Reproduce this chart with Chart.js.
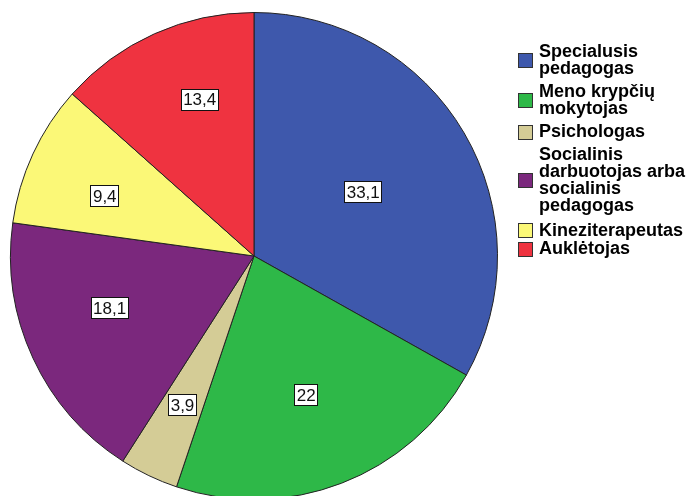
<!DOCTYPE html>
<html>
<head>
<meta charset="utf-8">
<script src="https://cdn.jsdelivr.net/npm/chart.js@4"></script>
<style>
  html, body { margin: 0; padding: 0; background: #fff; overflow: hidden; }
  #wrap { width: 688px; height: 496px; overflow: hidden; }
</style>
</head>
<body>
<div id="wrap"><canvas id="chartPie" width="688" height="500"></canvas></div>
<script>
// Kategorijos (legendos eilutės) ir procentai
var categories = [
    ['Specialusis', 'pedagogas'],
    ['Meno krypčių', 'mokytojas'],
    ['Psichologas'],
    ['Socialinis', 'darbuotojas arba', 'socialinis', 'pedagogas'],
    ['Kineziterapeutas'],
    ['Auklėtojas']
];
var values = [33.1, 22, 3.9, 18.1, 9.4, 13.4];
var valueLabels = ['33,1', '22', '3,9', '18,1', '9,4', '13,4'];

var colors = ['#3e58ac', '#2eb848', '#d4cc96', '#7b287d', '#fbf877', '#ef3340'];

// Etikečių vieta: spindulio dalis ir kampo poslinkis (laipsniais)
var labelRadius = [0.52, 0.61, 0.68, 0.63, 0.66, 0.68];
var labelShift = [0, 0.5, 0, 5, -3, 5];

// Tarpai tarp legendos įrašų
var legendGaps = [6.5, 6.5, 6.5, 8, 2];

// Reikšmių etiketės baltuose rėmeliuose
var valueBoxes = {
    id: 'valueBoxes',
    afterDatasetsDraw: function (chart) {
        var ctx = chart.ctx;
        var arcs = chart.getDatasetMeta(0).data;
        ctx.save();
        ctx.font = '17px "Liberation Sans", Arial, sans-serif';
        ctx.textAlign = 'center';
        ctx.textBaseline = 'middle';
        arcs.forEach(function (arc, i) {
            var mid = (arc.startAngle + arc.endAngle) / 2 + labelShift[i] * Math.PI / 180;
            var r = arc.outerRadius * labelRadius[i];
            var x = arc.x + Math.cos(mid) * r;
            var y = arc.y + Math.sin(mid) * r;
            var w = ctx.measureText(valueLabels[i]).width + 5;
            var h = 22;
            ctx.fillStyle = '#fff';
            ctx.fillRect(Math.round(x - w / 2), Math.round(y - h / 2), Math.round(w), h);
            ctx.strokeStyle = '#111';
            ctx.lineWidth = 1;
            ctx.strokeRect(Math.round(x - w / 2) + 0.5, Math.round(y - h / 2) + 0.5, Math.round(w) - 1, h - 1);
            ctx.fillStyle = '#111';
            ctx.fillText(valueLabels[i], x, y + 1);
        });
        ctx.restore();
    }
};

// Legenda dešinėje
var sideLegend = {
    id: 'sideLegend',
    afterDraw: function (chart) {
        var ctx = chart.ctx;
        var lineH = 16.8;
        var boxX = 518, boxS = 15, textX = 539;
        var y = 52; // pirmos eilutės vidurys
        ctx.save();
        ctx.font = 'bold 18px "Liberation Sans", Arial, sans-serif';
        ctx.textBaseline = 'middle';
        ctx.textAlign = 'left';
        categories.forEach(function (lines, i) {
            var first = y;
            var last = y + (lines.length - 1) * lineH;
            var cy = (first + last) / 2;
            ctx.fillStyle = colors[i];
            ctx.fillRect(boxX, Math.round(cy - boxS / 2), boxS, boxS);
            ctx.strokeStyle = '#333';
            ctx.lineWidth = 1;
            ctx.strokeRect(boxX + 0.5, Math.round(cy - boxS / 2) + 0.5, boxS - 1, boxS - 1);
            ctx.fillStyle = '#000';
            lines.forEach(function (t, j) {
                ctx.fillText(t, textX, y + j * lineH);
            });
            y = last + lineH + (legendGaps[i] || 0);
        });
        ctx.restore();
    }
};

var ctx = document.getElementById('chartPie').getContext('2d');
var chart = new Chart(ctx, {
    type: 'pie',
    data: {
        labels: categories.map(function (l) { return l.join(' '); }),
        datasets: [{
            data: values,
            backgroundColor: colors,
            borderColor: '#222',
            borderWidth: 1
        }]
    },
    options: {
        responsive: false,
        animation: false,
        layout: {
            padding: { left: 10, right: 190, top: 12, bottom: 0 }
        },
        plugins: {
            legend: { display: false },
            tooltip: { enabled: false }
        }
    },
    plugins: [valueBoxes, sideLegend]
});
</script>
</body>
</html>
